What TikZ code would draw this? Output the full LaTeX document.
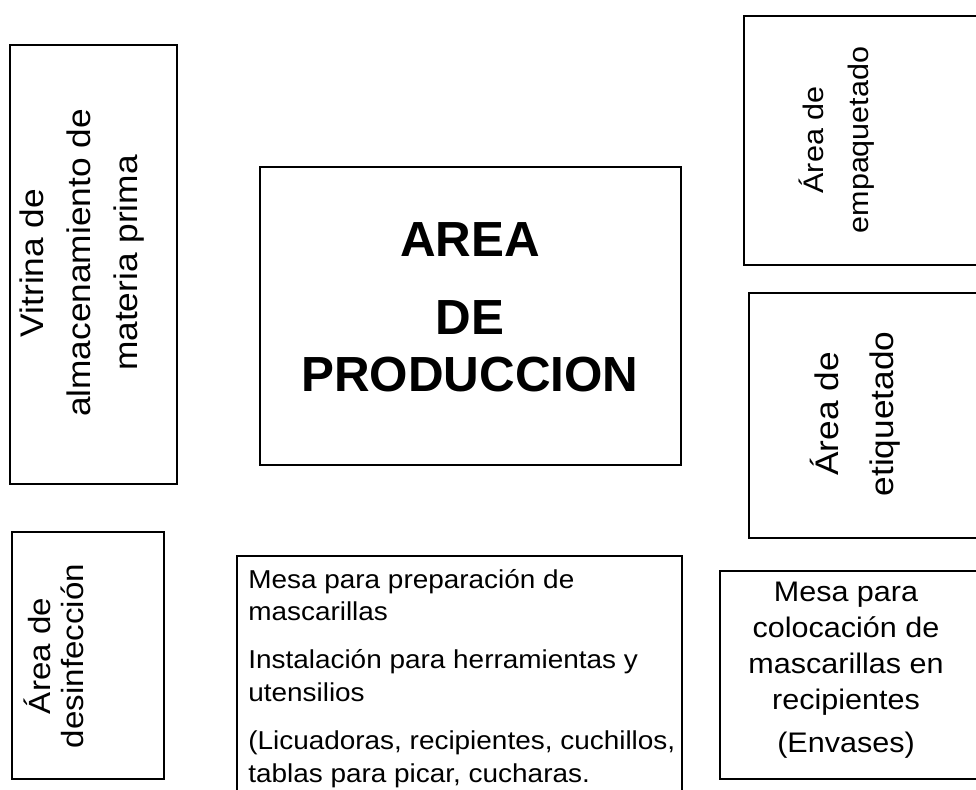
\documentclass[tikz,border=0pt]{standalone}
\usepackage{fontspec}
\setmainfont{Liberation Sans}
\newfontfamily\anchofont[FakeStretch=1.08]{Liberation Sans}
\begin{document}
\begin{tikzpicture}[x=0.75pt,y=-0.75pt,
	area/.style={draw=black,line width=1.1pt},
	rot/.style={rotate=90,align=center,inner sep=0pt}]
		\useasboundingbox (0,0) rectangle (976,790);
		\clip (0,0) rectangle (976,790);
		% recuadros del plano
		\draw [area] (10,45) rectangle (177,484);
		\draw [area] (12,532) rectangle (164,779);
		\draw [area] (260,167) rectangle (681,465);
		\draw [area] (237,556) rectangle (682,800);
		\draw [area] (744,16) rectangle (990,265);
		\draw [area] (749,293) rectangle (990,538);
		\draw [area] (720,571) rectangle (990,779);
		% textos
		\node [rot,font=\anchofont\fontsize{24.5}{35}\selectfont] (vitrina) at (82,263) {Vitrina de\\almacenamiento de\\materia prima};
		\node [rot,font=\anchofont\fontsize{23}{25}\selectfont] (desinf) at (54,656) {Área de\\desinfección};
		\node [align=center,inner sep=0pt,font=\fontsize{37}{43}\selectfont\bfseries] (prod) at (470,307) {AREA\\[15.5pt]DE\\PRODUCCION};
		\node [align=left,anchor=north west,inner sep=0pt,font=\anchofont\fontsize{19.4}{24.5}\selectfont] (mesaprep) at (248,569) {Mesa para preparación de\\mascarillas\\[11.5pt]Instalación para herramientas y\\utensilios\\[11.5pt](Licuadoras, recipientes, cuchillos,\\tablas para picar, cucharas.};
		\node [rot,font=\anchofont\fontsize{21.2}{34}\selectfont] (empaq) at (837,140) {Área de\\empaquetado};
		\node [rot,font=\anchofont\fontsize{24.5}{41}\selectfont] (etiq) at (855,414) {Área de\\etiquetado};
		\node [align=center,anchor=north,inner sep=0pt,font=\anchofont\fontsize{21.2}{27}\selectfont] (mesacoloc) at (846,582) {Mesa para\\colocación de\\mascarillas en\\recipientes\\[5pt](Envases)};
	\end{tikzpicture}
\end{document}
